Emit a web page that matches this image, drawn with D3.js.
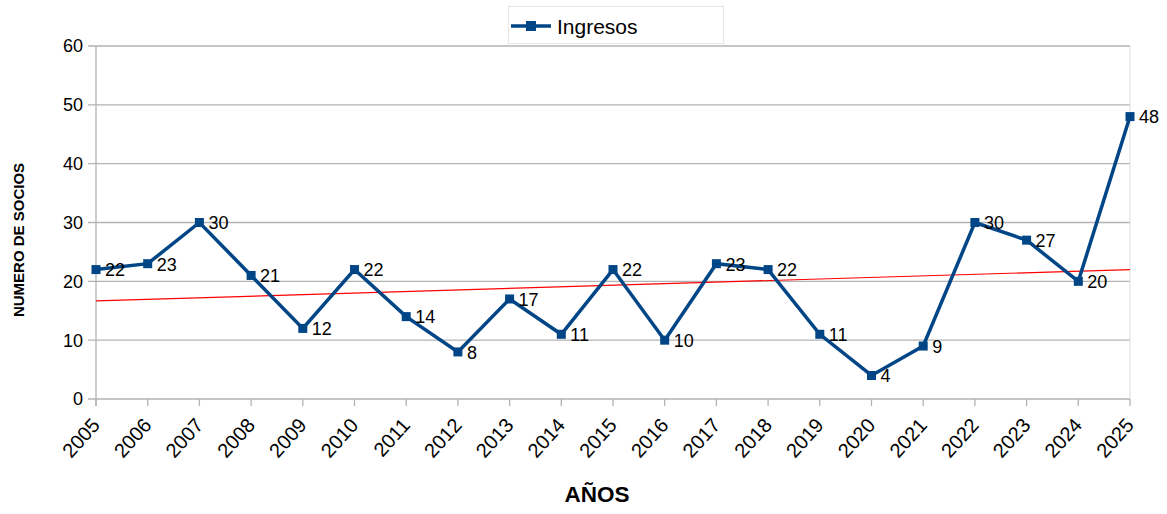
<!DOCTYPE html>
<html><head><meta charset="utf-8">
<script src="https://cdn.jsdelivr.net/npm/d3@7"></script>
<style>body{margin:0;background:#fff}svg{display:block;font-family:"Liberation Sans",Arial,sans-serif}</style>
</head><body><svg id="c" width="1167" height="514"></svg>
<script>
const years = ["2005","2006","2007","2008","2009","2010","2011","2012","2013","2014","2015","2016","2017","2018","2019","2020","2021","2022","2023","2024","2025"];
const ingresos = [22,23,30,21,12,22,14,8,17,11,22,10,23,22,11,4,9,30,27,20,48];
const yTicks = [0,10,20,30,40,50,60];
const seriesName = "Ingresos";
const yTitle = "NUMERO DE SOCIOS";
const xTitle = "AÑOS";

const svg = d3.select("#c");
const x = d3.scalePoint().domain(years).range([96,1130]);
const y = d3.scaleLinear().domain([0,60]).range([399,46]);
const blue = "#004586";

// grid
svg.append("g").selectAll("line").data(yTicks).join("line")
  .attr("x1",88).attr("x2",1130).attr("y1",d=>y(d)).attr("y2",d=>y(d))
  .attr("stroke","#b3b3b3").attr("stroke-width",1.3);
// right edge
svg.append("line").attr("x1",1130).attr("x2",1130).attr("y1",46).attr("y2",399)
  .attr("stroke","#dddddd").attr("stroke-width",1);
// y axis line
svg.append("line").attr("x1",96).attr("x2",96).attr("y1",46).attr("y2",406)
  .attr("stroke","#b3b3b3").attr("stroke-width",1.3);
// x tick marks
svg.append("g").selectAll("line").data(years).join("line")
  .attr("x1",d=>x(d)).attr("x2",d=>x(d)).attr("y1",399).attr("y2",406)
  .attr("stroke","#b3b3b3").attr("stroke-width",1.3);

// y tick labels
svg.append("g").selectAll("text").data(yTicks).join("text")
  .attr("x",83).attr("y",d=>y(d)).attr("dy","0.36em").attr("text-anchor","end")
  .attr("font-size",18).attr("fill","#000").text(d=>d);
// x tick labels
svg.append("g").selectAll("text").data(years).join("text")
  .attr("transform",d=>`translate(${x(d)+5},${426}) rotate(-48)`)
  .attr("text-anchor","end")
  .attr("font-size",20).attr("fill","#000").text(d=>d);

// trend line (least squares)
const n = ingresos.length, idx = d3.range(n);
const mx = d3.mean(idx), my = d3.mean(ingresos);
const b = d3.sum(idx,i=>(i-mx)*(ingresos[i]-my))/d3.sum(idx,i=>(i-mx)*(i-mx));
const a = my - b*mx;
svg.append("line").attr("x1",x(years[0])).attr("x2",x(years[n-1]))
  .attr("y1",y(a)).attr("y2",y(a+b*(n-1)))
  .attr("stroke","#ff0000").attr("stroke-width",1.2);

// series line
svg.append("path").datum(ingresos)
  .attr("d",d3.line().x((d,i)=>x(years[i])).y(d=>y(d)))
  .attr("fill","none").attr("stroke",blue).attr("stroke-width",3.5).attr("stroke-linejoin","miter");
svg.append("g").selectAll("rect").data(ingresos).join("rect")
  .attr("x",(d,i)=>x(years[i])-4.5).attr("y",d=>y(d)-4.5).attr("width",9).attr("height",9)
  .attr("fill",blue);
svg.append("g").selectAll("text").data(ingresos).join("text")
  .attr("x",(d,i)=>x(years[i])+9).attr("y",d=>y(d)).attr("dy","0.38em")
  .attr("font-size",18).attr("fill","#000").text(d=>d);

// axis titles
svg.append("text").attr("transform","translate(24,240) rotate(-90)")
  .attr("text-anchor","middle").attr("font-size",15).attr("font-weight","bold").text(yTitle);
svg.append("text").attr("x",597).attr("y",502).attr("text-anchor","middle")
  .attr("font-size",22.5).attr("font-weight","bold").text(xTitle);

// legend
const lg = svg.append("g");
lg.append("rect").attr("x",508.5).attr("y",6.5).attr("width",215).attr("height",37)
  .attr("fill","#fff").attr("stroke","#e6e6e6");
lg.append("line").attr("x1",511).attr("x2",551).attr("y1",26).attr("y2",26)
  .attr("stroke",blue).attr("stroke-width",3.5);
lg.append("rect").attr("x",526).attr("y",21).attr("width",10).attr("height",10).attr("fill",blue);
lg.append("text").attr("x",557).attr("y",26).attr("dy","0.36em").attr("font-size",21).text(seriesName);
</script></body></html>
